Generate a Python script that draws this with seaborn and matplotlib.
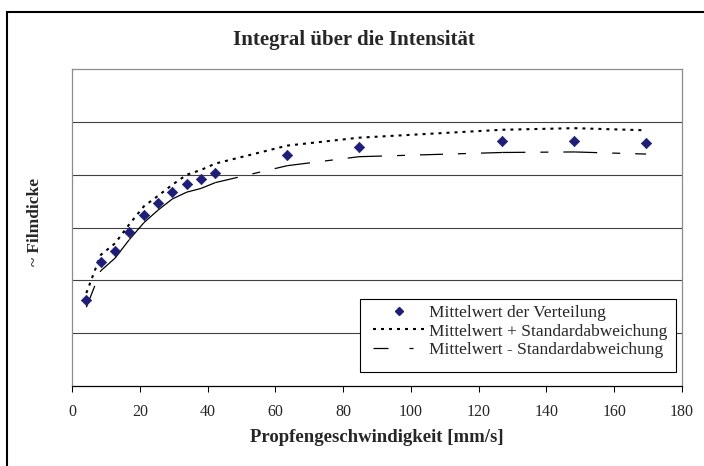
import matplotlib
matplotlib.use("Agg")
import matplotlib.pyplot as plt
import seaborn as sns
import pandas as pd
from matplotlib.lines import Line2D
from matplotlib.patches import Rectangle

# ---- data ----
speed = [4.23, 8.47, 12.7, 16.9, 21.2, 25.4, 29.6, 33.9, 38.1, 42.3, 63.5, 84.7, 127.0, 148.2, 169.4]
mean_vals = [1.62, 2.34, 2.56, 2.92, 3.24, 3.46, 3.67, 3.83, 3.91, 4.03, 4.37, 4.52, 4.63, 4.63, 4.60]
upper_vals = [1.76, 2.48, 2.70, 3.06, 3.40, 3.60, 3.81, 4.00, 4.09, 4.21, 4.55, 4.70, 4.85, 4.88, 4.84]
lower_vals = [1.49, 2.18, 2.42, 2.77, 3.09, 3.33, 3.54, 3.67, 3.74, 3.85, 4.17, 4.34, 4.42, 4.43, 4.39]
x_ticks = [0, 20, 40, 60, 80, 100, 120, 140, 160, 180]
grid_levels = [1, 2, 3, 4, 5]

title = "Integral über die Intensität"
xlabel = "Propfengeschwindigkeit [mm/s]"
ylabel = "~ Filmdicke"
labels = ["Mittelwert der Verteilung",
          "Mittelwert + Standardabweichung",
          "Mittelwert - Standardabweichung"]

sns.set_style("white")
plt.rcParams["font.family"] = ["Liberation Serif", "DejaVu Serif"]
plt.rcParams["lines.scale_dashes"] = False

W, H = 704, 466
fig = plt.figure(figsize=(W / 100, H / 100), dpi=100)
L, R, T, B = 72, 682, 69, 386
ax = fig.add_axes([L / W, 1 - B / H, (R - L) / W, (B - T) / H])

px = 0.72  # points per pixel
navy = "#1E1E78"

df_mean = pd.DataFrame({"x": speed, "y": mean_vals})
df_up = pd.DataFrame({"x": speed, "y": upper_vals})

# lower line: each segment drawn separately (dash pattern restarts per segment)
seg_rows = []
for i in range(len(speed) - 1):
    seg_rows.append({"x": speed[i], "y": lower_vals[i], "seg": i})
    seg_rows.append({"x": speed[i + 1], "y": lower_vals[i + 1], "seg": i})
df_low = pd.DataFrame(seg_rows)

lower_style = (0, (23 * px, 15 * px, 8 * px, 15 * px))
dot_style = (0, (3 * px, 5 * px))

sns.lineplot(data=df_up, x="x", y="y", ax=ax, color="black", lw=1.5,
             linestyle=dot_style, dash_capstyle="butt", sort=False, zorder=3)
sns.lineplot(data=df_low, x="x", y="y", units="seg", estimator=None, ax=ax,
             color="black", lw=0.9, linestyle=lower_style, sort=False, zorder=3)
sns.scatterplot(data=df_mean, x="x", y="y", ax=ax, marker="D", s=28,
                color=navy, edgecolor=navy, linewidth=0.5, zorder=4)

ax.set_xlim(0, 180)
ax.set_ylim(0, 6)
ax.set_xticks(x_ticks)
ax.set_xticklabels([str(t) for t in x_ticks], fontsize=11.5)
ax.set_yticks(grid_levels)
ax.set_yticklabels([])
ax.tick_params(axis="y", length=0)
ax.tick_params(axis="x", direction="out", length=6 * px, width=0.75,
               color="black", pad=8.5, bottom=True)
ax.yaxis.grid(True, color="#404040", lw=0.8)
ax.xaxis.grid(False)
for side in ["top", "right", "left"]:
    ax.spines[side].set_color("#8c8c8c")
    ax.spines[side].set_linewidth(0.9)
ax.spines["bottom"].set_color("black")
ax.spines["bottom"].set_linewidth(0.9)

ax.set_xlabel(xlabel, fontsize=13.5, fontweight="bold")
ax.xaxis.set_label_coords(0.5, (B - 438) / (B - T))
ax.xaxis.label.set_va("center")
ax.set_ylabel(ylabel, fontsize=12.5, fontweight="bold")
ax.yaxis.set_label_coords((35 - L) / (R - L), (B - 222) / (B - T))
ax.yaxis.label.set_va("center")

fig.text(354 / W, 1 - 40 / H, title, ha="center", va="center",
         fontsize=15, fontweight="bold")

# legend box
bx0, bx1, by0, by1 = 360, 676, 299, 372
box = Rectangle(((bx0 - L) / (R - L), (B - by1) / (B - T)),
                (bx1 - bx0) / (R - L), (by1 - by0) / (B - T),
                transform=ax.transAxes, facecolor="white", edgecolor="black",
                lw=0.8, zorder=6, clip_on=False)
ax.add_patch(box)

handles = [
    Line2D([], [], marker="D", color=navy, markeredgecolor=navy, linestyle="none",
           markersize=4.5),
    Line2D([], [], color="black", lw=1.5, linestyle=dot_style, dash_capstyle="butt"),
    Line2D([], [], color="black", lw=0.9,
           linestyle=(0, (15 * px, 21 * px, 4 * px, 30 * px))),
]
leg = ax.legend(handles, labels, loc="upper left",
                bbox_to_anchor=((373 - L) / (R - L), (B - 305) / (B - T)),
                frameon=False, borderpad=0, borderaxespad=0,
                handlelength=3.0, handletextpad=0.2, labelspacing=0.13,
                fontsize=12.5)
leg.set_zorder(7)

# outer chart border
fig.patches.append(Rectangle((7 / W, -0.05), 1.2, 1 - 12 / H + 0.05,
                             transform=fig.transFigure, fill=False,
                             edgecolor="black", lw=1.5, clip_on=False))

fig.savefig("out.png", dpi=100)
